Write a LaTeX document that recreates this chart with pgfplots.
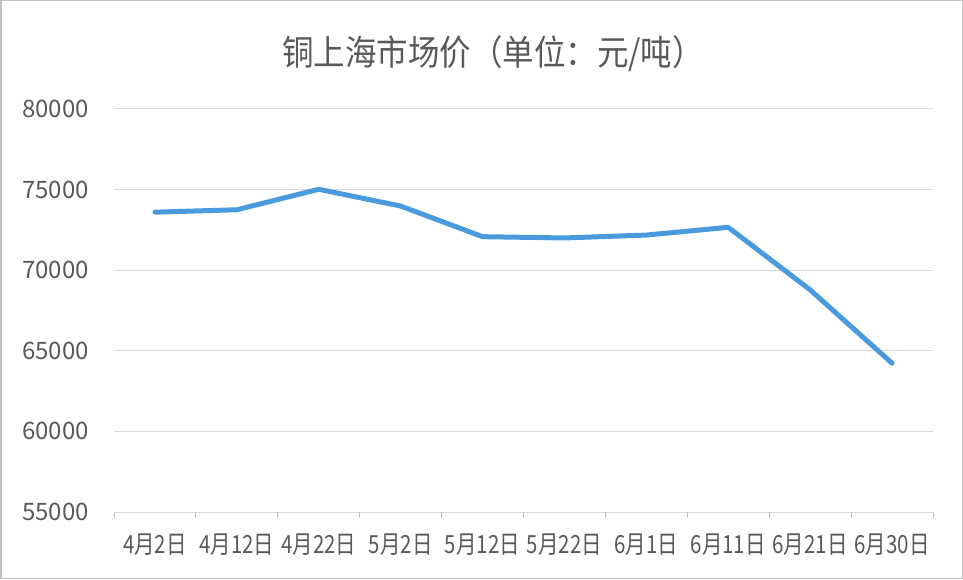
\documentclass[border=0pt]{standalone}
\usepackage{fontspec}
\usepackage{pgfplots}
\pgfplotsset{compat=1.18}
\setmainfont{Noto Sans CJK SC}
\newfontfamily\titlefont[FakeStretch=0.9]{Noto Sans CJK SC}
\newfontfamily\xfont[FakeStretch=0.82]{Noto Sans CJK SC}
\definecolor{txt}{HTML}{595959}
\definecolor{gridc}{HTML}{D9D9D9}
\definecolor{linec}{HTML}{4A9BDD}
\definecolor{framec}{HTML}{BFBFBF}

\begin{document}
\begin{tikzpicture}[x=1pt,y=1pt]
\path[use as bounding box] (0,0) rectangle (963,579);
\draw[framec, line width=1.5pt] (0.75,0.75) rectangle (962.25,578.25);
\node[text=txt, font=\titlefont\fontsize{35}{40}\selectfont] at (493,525) {铜上海市场价（单位：元/吨）};
\begin{axis}[
    at={(114pt,67pt)}, anchor=south west,
    scale only axis, width=819pt, height=403pt,
    xmin=-0.5, xmax=9.5, ymin=55000, ymax=80000,
    ytick={55000,60000,...,80000},
    scaled y ticks=false,
    xtick={0,...,9},
    xticklabels={4月2日,4月12日,4月22日,5月2日,5月12日,5月22日,6月1日,6月11日,6月21日,6月30日},
    minor xtick={-0.5,0.5,...,9.5},
    xtick pos=left, ytick pos=left,
    major tick length=0pt, minor tick length=6pt, tick align=outside,
    tick style={framec, line width=1pt},
    axis line style={draw=none},
    ymajorgrids, grid style={gridc, line width=1pt},
    /pgf/number format/1000 sep={},
    /pgf/number format/assume math mode=true,
    yticklabel style={font=\fontsize{24}{28}\selectfont, text=txt, anchor=east, inner sep=0pt, xshift=-25pt},
    xticklabel style={font=\xfont\fontsize{25}{28}\selectfont, text=txt, anchor=base, inner sep=0pt, yshift=-41pt},
]
\addplot[linec, line width=5pt, line join=round, line cap=round] coordinates {
    (0,73600) (1,73750) (2,75020) (3,73980) (4,72080)
    (5,72000) (6,72180) (7,72660) (8,68780) (9,64230)
};
\end{axis}
\end{tikzpicture}
\end{document}
